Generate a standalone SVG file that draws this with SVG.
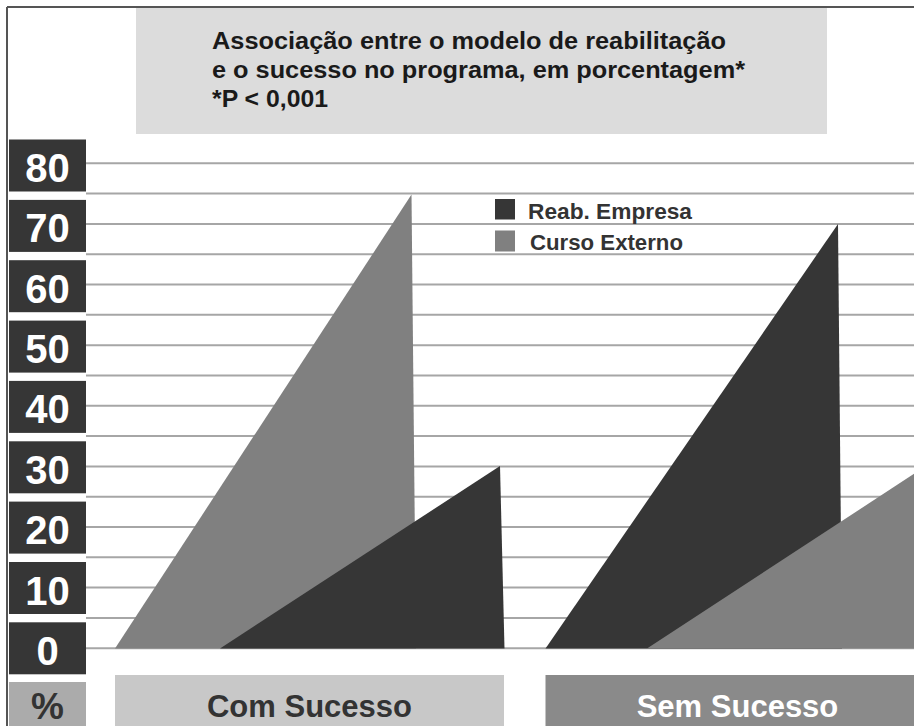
<svg xmlns="http://www.w3.org/2000/svg" width="914" height="726" viewBox="0 0 914 726">
<style>
.ax{fill:#363636}
.axt{font-family:"Liberation Sans",Arial,sans-serif;font-weight:bold;font-size:40px;fill:#ffffff;text-anchor:middle}
.grid line{stroke:#a6a6a6;stroke-width:2}
.dark{fill:#363636}
.gray{fill:#808080}
.ttl{font-family:"Liberation Sans",Arial,sans-serif;font-weight:bold;font-size:23px;fill:#1a1a1a}
.leg{font-family:"Liberation Sans",Arial,sans-serif;font-weight:bold;font-size:22px;fill:#333333}
.cat{font-family:"Liberation Sans",Arial,sans-serif;font-weight:bold;font-size:31px;text-anchor:middle}
</style>
<rect x="0" y="0" width="914" height="726" fill="#ffffff"/>
<g id="frame">
<line x1="7" y1="7" x2="914" y2="7" stroke="#555555" stroke-width="2"/>
<line x1="7" y1="7" x2="7" y2="726" stroke="#555555" stroke-width="2"/>
</g>
<g id="title">
<rect x="136" y="8" width="691" height="126" fill="#dcdcdc"/>
<text class="ttl" x="212" y="49" textLength="514" lengthAdjust="spacingAndGlyphs">Associação entre o modelo de reabilitação</text>
<text class="ttl" x="212" y="77.5" textLength="533" lengthAdjust="spacingAndGlyphs">e o sucesso no programa, em porcentagem*</text>
<text class="ttl" x="212" y="106.5" textLength="116" lengthAdjust="spacingAndGlyphs">*P &lt; 0,001</text>
</g>
<g id="gridlines" class="grid">
<line x1="86" y1="163.3" x2="914" y2="163.3"/>
<line x1="86" y1="193.6" x2="914" y2="193.6"/>
<line x1="86" y1="223.9" x2="914" y2="223.9"/>
<line x1="86" y1="254.2" x2="914" y2="254.2"/>
<line x1="86" y1="284.5" x2="914" y2="284.5"/>
<line x1="86" y1="314.8" x2="914" y2="314.8"/>
<line x1="86" y1="345.2" x2="914" y2="345.2"/>
<line x1="86" y1="375.5" x2="914" y2="375.5"/>
<line x1="86" y1="405.8" x2="914" y2="405.8"/>
<line x1="86" y1="436.1" x2="914" y2="436.1"/>
<line x1="86" y1="466.4" x2="914" y2="466.4"/>
<line x1="86" y1="496.7" x2="914" y2="496.7"/>
<line x1="86" y1="527.0" x2="914" y2="527.0"/>
<line x1="86" y1="557.3" x2="914" y2="557.3"/>
<line x1="86" y1="587.6" x2="914" y2="587.6"/>
<line x1="86" y1="617.9" x2="914" y2="617.9"/>
<line x1="86" y1="648.2" x2="914" y2="648.2"/>
</g>
<g id="axis">
<rect class="ax" x="9" y="139.5" width="77" height="52"/><text class="axt" x="47.5" y="182">80</text>
<rect class="ax" x="9" y="199.9" width="77" height="52"/><text class="axt" x="47.5" y="242.4">70</text>
<rect class="ax" x="9" y="260.2" width="77" height="52"/><text class="axt" x="47.5" y="302.7">60</text>
<rect class="ax" x="9" y="320.6" width="77" height="52"/><text class="axt" x="47.5" y="363.1">50</text>
<rect class="ax" x="9" y="380.9" width="77" height="52"/><text class="axt" x="47.5" y="423.4">40</text>
<rect class="ax" x="9" y="441.3" width="77" height="52"/><text class="axt" x="47.5" y="483.8">30</text>
<rect class="ax" x="9" y="501.6" width="77" height="52"/><text class="axt" x="47.5" y="544.1">20</text>
<rect class="ax" x="9" y="562.0" width="77" height="52"/><text class="axt" x="47.5" y="604.5">10</text>
<rect class="ax" x="9" y="622.3" width="77" height="52"/><text class="axt" x="47.5" y="664.8">0</text>
<rect x="9" y="682" width="77" height="50" fill="#ababab"/><text class="axt" x="47.5" y="719" style="fill:#333333;font-size:37px">%</text>
</g>
<g id="com-sucesso">
<polygon class="gray" points="115,648.5 411.5,194.5 416,648.5"/>
<polygon class="dark" points="220,648.5 500,466 504.5,648.5"/>
<rect x="115" y="675" width="389" height="55" fill="#c8c8c8"/>
<text class="cat" x="309.5" y="717" fill="#333333">Com Sucesso</text>
</g>
<g id="sem-sucesso">
<polygon class="dark" points="545.5,648.5 838,224 842,648.5"/>
<polygon class="gray" points="647,648.5 926,466 930,648.5"/>
<rect x="545.5" y="675" width="380" height="55" fill="#8a8a8a"/>
<text class="cat" x="737.5" y="717" fill="#ffffff">Sem Sucesso</text>
</g>
<g id="legend">
<rect class="dark" x="495" y="199" width="20" height="20.5"/>
<text class="leg" x="528" y="218.5" textLength="164" lengthAdjust="spacingAndGlyphs">Reab. Empresa</text>
<rect class="gray" x="495" y="230.5" width="20" height="21"/>
<text class="leg" x="530" y="250" textLength="153" lengthAdjust="spacingAndGlyphs">Curso Externo</text>
</g>
</svg>
